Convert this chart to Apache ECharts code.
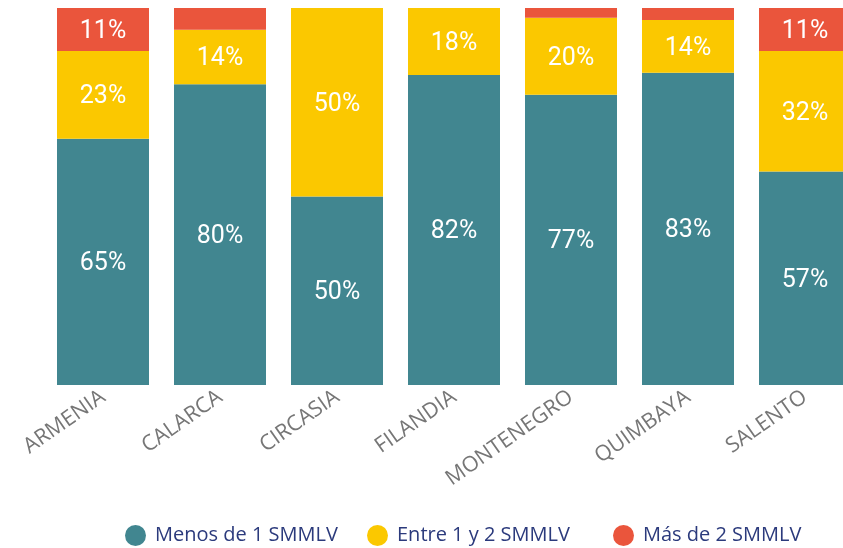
<!DOCTYPE html>
<html lang="es">
<head>
<meta charset="UTF-8">
<script src="https://cdn.jsdelivr.net/npm/echarts@6/dist/echarts.min.js"></script>
<title>Ingresos por municipio</title>
<style>
  body { margin: 0; padding: 0; background: #fff; }
  #chart { width: 843px; height: 548px; }
</style>
</head>
<body>
<div id="chart"></div>
<script>
  // datos (porcentajes)
  const municipios = ['ARMENIA', 'CALARCA', 'CIRCASIA', 'FILANDIA', 'MONTENEGRO', 'QUIMBAYA', 'SALENTO'];
  const menosDe1 = [65.3, 79.8, 50, 82.2, 77, 82.8, 56.6];
  const entre1y2 = [23.3, 14.4, 50, 17.8, 20.4, 14.0, 32];
  const masDe2 = [11.4, 5.8, 0, 0, 2.6, 3.2, 11.4];
  const nombres = ['Menos de 1 SMMLV', 'Entre 1 y 2 SMMLV', 'Más de 2 SMMLV'];
  const colores = ['#418690', '#fbc800', '#ea553c'];

  const chart = echarts.init(document.getElementById('chart'));

  const etiqueta = {
    show: true,
    position: 'inside',
    offset: [0, 2],
    color: '#fff',
    fontFamily: 'Roboto',
    fontSize: 25,
    letterSpacing: 2,
    formatter: function (p) {
      return p.value >= 10 ? Math.round(p.value) + '%' : '';
    }
  };

  const series = [menosDe1, entre1y2, masDe2].map(function (vals, i) {
    return {
      name: nombres[i],
      type: 'bar',
      stack: 'total',
      data: vals,
      barWidth: 92,
      itemStyle: { color: colores[i] },
      label: etiqueta
    };
  });

  // una leyenda por serie para ubicar cada una
  const leyendaX = [120, 362, 608];
  const legends = nombres.map(function (n, i) {
    return {
      data: [n],
      left: leyendaX[i],
      top: 520,
      icon: 'circle',
      itemWidth: 21,
      itemHeight: 21,
      itemGap: 0,
      textStyle: { color: '#2b3a7c', fontSize: 20, fontFamily: 'Open Sans', padding: [0, 0, 0, 4] }
    };
  });

  const option = {
    animation: false,
    grid: {
      left: 44.5,
      width: 819,
      top: 8,
      bottom: 163,
      containLabel: false,
      outerBoundsMode: 'none'
    },
    legend: legends,
    xAxis: {
      type: 'category',
      data: municipios,
      axisLine: { show: false },
      axisTick: { show: false },
      axisLabel: {
        rotate: 35,
        margin: 10,
        color: '#767676',
        fontSize: 21.5,
        fontFamily: 'Open Sans',
        interval: 0
      }
    },
    yAxis: {
      type: 'value',
      min: 0,
      max: 100,
      show: false
    },
    series: series
  };

  chart.setOption(option);
</script>
</body>
</html>
